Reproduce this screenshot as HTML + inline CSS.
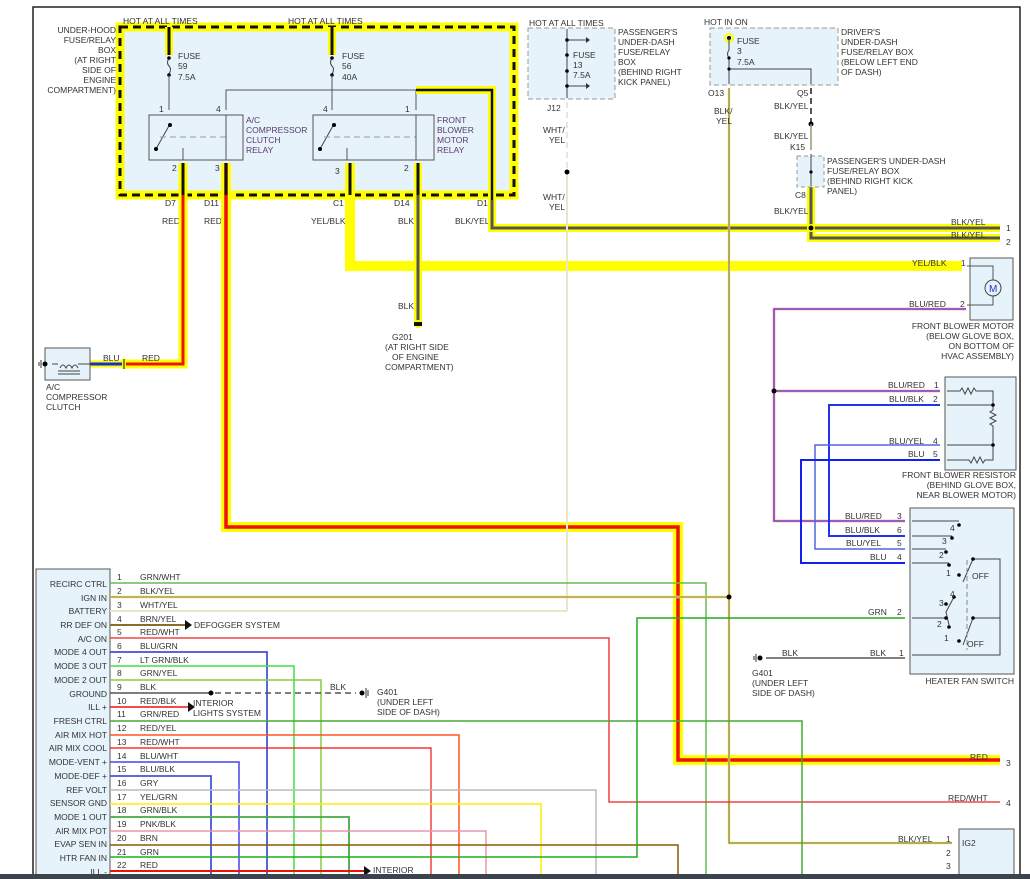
<!DOCTYPE html>
<html><head><meta charset="utf-8"><style>
body{margin:0;background:#fff;}
svg{display:block;font-family:"Liberation Sans",sans-serif;}
text{font-size:8.5px;fill:#333;}
.p{fill:#5a3a70;}
</style></head><body>
<svg width="1030" height="879" viewBox="0 0 1030 879" xmlns="http://www.w3.org/2000/svg">
<rect x="0" y="0" width="1030" height="879" fill="#fff"/>
<path d="M33 879 V7 H1020 V879" fill="none" stroke="#222" stroke-width="1.5"/>

<rect x="120" y="27" width="394" height="168" fill="#e6f3fa" stroke="#ffff00" stroke-width="9"/>
<rect x="120" y="27" width="394" height="168" fill="none" stroke="#111" stroke-width="3" stroke-dasharray="8,5"/>
<g text-anchor="end">
<text x="116" y="33">UNDER-HOOD</text>
<text x="116" y="43">FUSE/RELAY</text>
<text x="116" y="53">BOX</text>
<text x="116" y="63">(AT RIGHT</text>
<text x="116" y="73">SIDE OF</text>
<text x="116" y="83">ENGINE</text>
<text x="116" y="93">COMPARTMENT)</text>
</g>
<text x="123" y="24">HOT AT ALL TIMES</text>
<text x="288" y="24">HOT AT ALL TIMES</text>
<path d="M169 27 V55 M332 27 V55" stroke="#ffff00" stroke-width="8"/>
<path d="M169 27 V55 M332 27 V55" stroke="#111" stroke-width="3"/>
<path d="M169 58 q-3 5 0 8 q3 3 0 8 M332 58 q-3 5 0 8 q3 3 0 8" fill="none" stroke="#444"/>
<circle cx="169" cy="58" r="1.8"/><circle cx="169" cy="75" r="1.8"/><circle cx="332" cy="58" r="1.8"/><circle cx="332" cy="75" r="1.8"/>
<text x="178" y="59">FUSE</text><text x="178" y="69">59</text><text x="178" y="80">7.5A</text>
<text x="342" y="59">FUSE</text><text x="342" y="69">56</text><text x="342" y="80">40A</text>
<path d="M169 75 V110 M332 75 V110 M226 110 V90 H416 V110" fill="none" stroke="#555"/>
<path d="M416 90 H492 V228" fill="none" stroke="#ffff00" stroke-width="8"/>
<path d="M416 90 H492 V228" fill="none" stroke="#111" stroke-width="2.5"/>
<rect x="149" y="115" width="94" height="45" fill="none" stroke="#555"/>
<rect x="313" y="115" width="121" height="45" fill="none" stroke="#555"/>
<path d="M156 149 L170 124 M320 149 L334 124" fill="none" stroke="#444"/>
<path d="M160 137 H226 M324 137 H416" stroke="#999" stroke-dasharray="6,4"/>
<circle cx="156" cy="149" r="2"/><circle cx="170" cy="125" r="2"/><circle cx="320" cy="149" r="2"/><circle cx="334" cy="125" r="2"/>
<path d="M226 115 V160 M416 115 V160 M183 148 V160 M347 148 V160" stroke="#555"/>
<text x="159" y="112">1</text><text x="216" y="112">4</text><text x="323" y="112">4</text><text x="405" y="112">1</text>
<text x="172" y="171">2</text><text x="215" y="171">3</text><text x="335" y="174">3</text><text x="404" y="171">2</text>
<text x="246" y="123" class="p">A/C</text><text x="246" y="133" class="p">COMPRESSOR</text><text x="246" y="143" class="p">CLUTCH</text><text x="246" y="153" class="p">RELAY</text>
<text x="437" y="123" class="p">FRONT</text><text x="437" y="133" class="p">BLOWER</text><text x="437" y="143" class="p">MOTOR</text><text x="437" y="153" class="p">RELAY</text>
<text x="165" y="206">D7</text><text x="204" y="206">D11</text><text x="333" y="206">C1</text><text x="394" y="206">D14</text><text x="477" y="206">D1</text>
<text x="162" y="224">RED</text><text x="204" y="224">RED</text><text x="311" y="224">YEL/BLK</text><text x="398" y="224">BLK</text><text x="455" y="224">BLK/YEL</text>

<g fill="none" stroke-linejoin="miter">
<path d="M183 163 V364 H125" stroke="#ffff00" stroke-width="9"/>
<path d="M226 163 V527 H678 V760 H1000" stroke="#ffff00" stroke-width="10"/>
<path d="M350 163 V266 H962" stroke="#ffff00" stroke-width="10"/>
<path d="M418 163 V322" stroke="#ffff00" stroke-width="8"/>
<path d="M492 200 V228 H1000 M811 185 V238 H1000" stroke="#ffff00" stroke-width="8"/>
<path d="M183 163 V364 H125" stroke="#ee1111" stroke-width="3"/>
<path d="M226 163 V527 H678 V760 H1000" stroke="#ee1111" stroke-width="3.5"/>
<path d="M183 163 V195 M226 163 V195 M350 163 V195 M418 163 V195" stroke="#111" stroke-width="3"/>
<path d="M418 195 V322" stroke="#555" stroke-width="3"/>
<path d="M492 200 V228 H1000 M811 185 V238 H1000" stroke="#555" stroke-width="3"/>
<path d="M125 364 H90" stroke="#ffff00" stroke-width="7"/>
<path d="M125 364 H90" stroke="#1a2ecc" stroke-width="3"/>
</g>
<circle cx="418" cy="324" r="4" fill="#ffff00"/><rect x="414" y="322" width="8" height="4" fill="#111"/>
<text x="398" y="309">BLK</text>
<text x="392" y="340">G201</text>
<text x="385" y="350">(AT RIGHT SIDE</text><text x="392" y="360">OF ENGINE</text><text x="385" y="370">COMPARTMENT)</text>
<rect x="45" y="348" width="45" height="32" fill="#e6f3fa" stroke="#555"/>
<path d="M52 364 H58 M60 368 q3 -6 6 0 q3 -6 6 0 q3 -6 6 0 M58 371 H80 M58 374 H80 M78 364 H90" fill="none" stroke="#444"/>
<circle cx="45" cy="364" r="2.5"/><path d="M41 360 V368 M39 362 V366" stroke="#333"/>
<text x="103" y="361">BLU</text><text x="142" y="361">RED</text>
<rect x="122" y="359" width="4" height="10" fill="#ffff00"/><path d="M124 359 V369" stroke="#111"/>
<text x="46" y="390">A/C</text><text x="46" y="400">COMPRESSOR</text><text x="46" y="410">CLUTCH</text>

<rect x="528" y="28" width="87" height="71" fill="#e6f3fa" stroke="#999" stroke-dasharray="5,3"/>
<text x="529" y="26">HOT AT ALL TIMES</text>
<path d="M567 29 V98 M567 40 H588 M567 86 H588" stroke="#444"/>
<path d="M586 37 l4 3 l-4 3 M586 83 l4 3 l-4 3" fill="#333"/>
<circle cx="567" cy="40" r="1.8"/><circle cx="567" cy="86" r="1.8"/><circle cx="567" cy="55" r="1.8"/><circle cx="567" cy="71" r="1.8"/>
<text x="573" y="58">FUSE</text><text x="573" y="68">13</text><text x="573" y="78">7.5A</text>
<text x="618" y="35">PASSENGER'S</text><text x="618" y="45">UNDER-DASH</text><text x="618" y="55">FUSE/RELAY</text><text x="618" y="65">BOX</text><text x="618" y="75">(BEHIND RIGHT</text><text x="618" y="85">KICK PANEL)</text>
<text x="547" y="111">J12</text>
<path d="M567 102 V172" stroke="#ddd" stroke-width="1.5" stroke-dasharray="6,4"/>
<path d="M567 172 V611" stroke="#e8e8c8" stroke-width="2"/>
<circle cx="567" cy="172" r="2.5"/>
<text x="543" y="133">WHT/</text><text x="549" y="143">YEL</text>
<text x="543" y="200">WHT/</text><text x="549" y="210">YEL</text>

<rect x="710" y="28" width="128" height="57" fill="#e6f3fa" stroke="#999" stroke-dasharray="5,3"/>
<text x="704" y="25">HOT IN ON</text>
<circle cx="729" cy="38" r="4" fill="none" stroke="#ffff00" stroke-width="2"/><circle cx="729" cy="38" r="2"/>
<path d="M729 38 V50 q-3 4 0 8 V84 M729 69 H811 V84" fill="none" stroke="#444"/>
<circle cx="729" cy="58" r="1.6"/><circle cx="729" cy="69" r="1.6"/>
<text x="737" y="44">FUSE</text><text x="737" y="54">3</text><text x="737" y="65">7.5A</text>
<text x="841" y="35">DRIVER'S</text><text x="841" y="45">UNDER-DASH</text><text x="841" y="55">FUSE/RELAY BOX</text><text x="841" y="65">(BELOW LEFT END</text><text x="841" y="75">OF DASH)</text>
<text x="708" y="96">O13</text><text x="797" y="96">Q5</text>
<path d="M729 88 V843 H952" fill="none" stroke="#ffee55" stroke-width="2.5"/>
<path d="M729 88 V843 H952" fill="none" stroke="#666" stroke-width="1"/>
<text x="714" y="114">BLK/</text><text x="716" y="124">YEL</text>
<path d="M811 88 V124" stroke="#555" stroke-width="2" stroke-dasharray="6,4"/>
<circle cx="811" cy="124" r="2.5"/>
<path d="M811 124 V150" stroke="#997" stroke-width="1.5"/>
<text x="774" y="109">BLK/YEL</text><text x="774" y="139">BLK/YEL</text><text x="790" y="150">K15</text>
<rect x="797" y="156" width="27" height="31" fill="#e6f3fa" stroke="#999" stroke-dasharray="4,3"/>
<path d="M811 154 V186" stroke="#444"/><circle cx="811" cy="172" r="1.6"/>
<text x="827" y="164">PASSENGER'S UNDER-DASH</text><text x="827" y="174">FUSE/RELAY BOX</text><text x="827" y="184">(BEHIND RIGHT KICK</text><text x="827" y="194">PANEL)</text>
<text x="795" y="198">C8</text><text x="774" y="214">BLK/YEL</text>
<circle cx="811" cy="228" r="4" fill="#ffff00"/><circle cx="811" cy="228" r="2.5"/>
<text x="951" y="225">BLK/YEL</text><text x="1006" y="231">1</text>
<text x="951" y="238">BLK/YEL</text><text x="1006" y="245">2</text>

<rect x="970" y="258" width="43" height="62" fill="#e6f3fa" stroke="#555"/>
<text x="912" y="266">YEL/BLK</text><text x="961" y="266">1</text>
<path d="M967 266 H993 V305 H967" fill="none" stroke="#555"/>
<circle cx="993" cy="288" r="8" fill="#e6f3fa" stroke="#444"/><text x="989" y="292" style="fill:#2233cc;font-size:10px">M</text>
<text x="909" y="307">BLU/RED</text><text x="960" y="307">2</text>
<path d="M966 309 H774 V521 H905 M774 391 H940" fill="none" stroke="#ee8899" stroke-width="2.5"/>
<path d="M966 309 H774 V521 H905 M774 391 H940" fill="none" stroke="#4433dd" stroke-width="1"/>
<circle cx="774" cy="391" r="2.5"/>
<text x="1014" y="329" text-anchor="end">FRONT BLOWER MOTOR</text><text x="1014" y="339" text-anchor="end">(BELOW GLOVE BOX,</text><text x="1014" y="349" text-anchor="end">ON BOTTOM OF</text><text x="1014" y="359" text-anchor="end">HVAC ASSEMBLY)</text>

<rect x="945" y="377" width="71" height="93" fill="#e6f3fa" stroke="#555"/>
<path d="M947 391 H960 l2 -3 l3 6 l3 -6 l3 6 l3 -6 l2 3 H993 V410 l-3 2 l6 3 l-6 3 l6 3 l-6 3 l3 2 V445 M947 405 H993 M947 445 H993 V460 H985 l-2 3 l-3 -6 l-3 6 l-3 -6 l-3 6 l-2 -3 H947" fill="none" stroke="#444"/>
<circle cx="993" cy="405" r="1.8"/><circle cx="993" cy="445" r="1.8"/>
<text x="888" y="388">BLU/RED</text><text x="934" y="388">1</text>
<text x="889" y="402">BLU/BLK</text><text x="933" y="402">2</text>
<text x="889" y="444">BLU/YEL</text><text x="933" y="444">4</text>
<text x="908" y="457">BLU</text><text x="933" y="457">5</text>
<path d="M940 405 H829 V536 H905" fill="none" stroke="#2233ee" stroke-width="2"/>
<path d="M940 445 H815 V549 H905" fill="none" stroke="#5566dd" stroke-width="1.5"/>
<path d="M940 460 H801 V563 H905" fill="none" stroke="#1122ee" stroke-width="2"/>
<text x="1016" y="478" text-anchor="end">FRONT BLOWER RESISTOR</text><text x="1016" y="488" text-anchor="end">(BEHIND GLOVE BOX,</text><text x="1016" y="498" text-anchor="end">NEAR BLOWER MOTOR)</text>

<rect x="910" y="508" width="104" height="166" fill="#e6f3fa" stroke="#555"/>
<text x="845" y="519">BLU/RED</text><text x="897" y="519">3</text>
<text x="845" y="533">BLU/BLK</text><text x="897" y="533">6</text>
<text x="846" y="546">BLU/YEL</text><text x="897" y="546">5</text>
<text x="870" y="560">BLU</text><text x="897" y="560">4</text>
<path d="M912 521 H959 M912 536 H952 M912 549 H946 M912 563 H949 M963 582 L973 559 H1000 V655 H912 M973 618 H1000 M912 618 H946 M954 597 L946 612 L949 625 M963 645 L973 618" fill="none" stroke="#444"/>
<path d="M967 560 V650" stroke="#888" stroke-dasharray="5,3"/>
<g><circle cx="959" cy="525" r="1.8"/><circle cx="952" cy="538" r="1.8"/><circle cx="946" cy="552" r="1.8"/><circle cx="949" cy="565" r="1.8"/><circle cx="959" cy="575" r="1.8"/><circle cx="973" cy="559" r="1.8"/><circle cx="954" cy="597" r="1.8"/><circle cx="946" cy="604" r="1.8"/><circle cx="946" cy="618" r="1.8"/><circle cx="949" cy="627" r="1.8"/><circle cx="959" cy="641" r="1.8"/><circle cx="973" cy="618" r="1.8"/></g>
<text x="950" y="531">4</text><text x="942" y="544">3</text><text x="939" y="558">2</text><text x="946" y="576">1</text><text x="972" y="579">OFF</text>
<text x="950" y="597">4</text><text x="939" y="606">3</text><text x="937" y="627">2</text><text x="944" y="641">1</text><text x="967" y="647">OFF</text>
<text x="868" y="615">GRN</text><text x="897" y="615">2</text>
<text x="870" y="656">BLK</text><text x="899" y="656">1</text>
<text x="782" y="656">BLK</text>
<path d="M766 658 H905" stroke="#555" stroke-width="1.5"/>
<circle cx="760" cy="658" r="2.5"/><path d="M756 654 V662 M754 656 V660" stroke="#333"/>
<text x="752" y="676">G401</text><text x="752" y="686">(UNDER LEFT</text><text x="752" y="696">SIDE OF DASH)</text>
<text x="1014" y="684" text-anchor="end">HEATER FAN SWITCH</text>

<rect x="959" y="829" width="55" height="60" fill="#e6f3fa" stroke="#555"/>
<text x="962" y="846">IG2</text>
<text x="898" y="842">BLK/YEL</text><text x="946" y="842">1</text><text x="946" y="856">2</text><text x="946" y="869">3</text>

<rect x="36" y="569" width="74" height="310" fill="#e6f3fa" stroke="#555"/>
<g fill="none">
<path d="M110 583 H706 V879" stroke="#66bb55" stroke-width="1.5"/>
<path d="M110 597 H729" stroke="#ffee55" stroke-width="2.5"/><path d="M110 597 H729" stroke="#777" stroke-width="1"/>
<path d="M110 611 H567" stroke="#e8e8c8" stroke-width="2"/>
<path d="M110 625 H185" stroke="#8a6d2a" stroke-width="2"/>
<path d="M110 638 H609 V802 H1000" stroke="#ee2222" stroke-width="1.3"/>
<path d="M110 652 H267 V879" stroke="#2233cc" stroke-width="1.5"/>
<path d="M110 666 H294 V879" stroke="#44dd44" stroke-width="1.5"/>
<path d="M110 680 H321 V879" stroke="#88cc44" stroke-width="1.5"/>
<path d="M110 693 H205" stroke="#555" stroke-width="1.5"/>
<path d="M205 693 H356" stroke="#555" stroke-width="1.5" stroke-dasharray="6,4"/>
<path d="M110 707 H188" stroke="#ee1111" stroke-width="1.5"/>
<path d="M110 721 H802 V879" stroke="#44aa33" stroke-width="1.5"/>
<path d="M110 735 H459 V879" stroke="#ff5522" stroke-width="1.5"/>
<path d="M110 748 H431 V879" stroke="#ee1111" stroke-width="1.2"/>
<path d="M110 762 H239 V879" stroke="#4444ee" stroke-width="1.5"/>
<path d="M110 776 H211 V879" stroke="#4455dd" stroke-width="1.8"/>
<path d="M110 790 H596 V879" stroke="#bbb" stroke-width="1.5"/>
<path d="M110 804 H541 V879" stroke="#ffee00" stroke-width="1.5"/>
<path d="M110 817 H349 V879" stroke="#44aa44" stroke-width="1.8"/>
<path d="M110 831 H486 V879" stroke="#e899aa" stroke-width="1.5"/>
<path d="M110 845 H678 V879" stroke="#8b5a00" stroke-width="1.5"/>
<path d="M110 857 H637 V618 H905" stroke="#22aa22" stroke-width="1.5"/>
<path d="M110 871 H364" stroke="#ee1111" stroke-width="2"/>
</g>
<circle cx="729" cy="597" r="2.5"/>
<circle cx="211" cy="693" r="2.5"/>
<circle cx="362" cy="693" r="2.5"/><path d="M366 688 V698 M368 690 V696" stroke="#333"/>
<path d="M185 620 l7 5 l-7 5 Z M188 702 l7 5 l-7 5 Z M364 866 l7 5 l-7 5 Z" fill="#111"/>
<text x="194" y="628">DEFOGGER SYSTEM</text>
<text x="193" y="706">INTERIOR</text><text x="193" y="716">LIGHTS SYSTEM</text>
<text x="373" y="873">INTERIOR</text>
<text x="330" y="690">BLK</text><text x="377" y="695">G401</text><text x="377" y="705">(UNDER LEFT</text><text x="377" y="715">SIDE OF DASH)</text>
<text x="970" y="760">RED</text><text x="1006" y="766">3</text>
<text x="948" y="801">RED/WHT</text><text x="1006" y="806">4</text>
<g text-anchor="end">
<text x="107" y="587">RECIRC CTRL</text><text x="107" y="601">IGN IN</text><text x="107" y="614">BATTERY</text><text x="107" y="628">RR DEF ON</text><text x="107" y="642">A/C ON</text><text x="107" y="655">MODE 4 OUT</text><text x="107" y="669">MODE 3 OUT</text><text x="107" y="683">MODE 2 OUT</text><text x="107" y="697">GROUND</text><text x="107" y="710">ILL +</text><text x="107" y="724">FRESH CTRL</text><text x="107" y="738">AIR MIX HOT</text><text x="107" y="751">AIR MIX COOL</text><text x="107" y="765">MODE-VENT +</text><text x="107" y="779">MODE-DEF +</text><text x="107" y="793">REF VOLT</text><text x="107" y="806">SENSOR GND</text><text x="107" y="820">MODE 1 OUT</text><text x="107" y="834">AIR MIX POT</text><text x="107" y="847">EVAP SEN IN</text><text x="107" y="861">HTR FAN IN</text><text x="107" y="875">ILL -</text>
</g>
<g>
<text x="117" y="580">1</text><text x="140" y="580">GRN/WHT</text>
<text x="117" y="594">2</text><text x="140" y="594">BLK/YEL</text>
<text x="117" y="608">3</text><text x="140" y="608">WHT/YEL</text>
<text x="117" y="622">4</text><text x="140" y="622">BRN/YEL</text>
<text x="117" y="635">5</text><text x="140" y="635">RED/WHT</text>
<text x="117" y="649">6</text><text x="140" y="649">BLU/GRN</text>
<text x="117" y="663">7</text><text x="140" y="663">LT GRN/BLK</text>
<text x="117" y="676">8</text><text x="140" y="676">GRN/YEL</text>
<text x="117" y="690">9</text><text x="140" y="690">BLK</text>
<text x="117" y="704">10</text><text x="140" y="704">RED/BLK</text>
<text x="117" y="717">11</text><text x="140" y="717">GRN/RED</text>
<text x="117" y="731">12</text><text x="140" y="731">RED/YEL</text>
<text x="117" y="745">13</text><text x="140" y="745">RED/WHT</text>
<text x="117" y="759">14</text><text x="140" y="759">BLU/WHT</text>
<text x="117" y="772">15</text><text x="140" y="772">BLU/BLK</text>
<text x="117" y="786">16</text><text x="140" y="786">GRY</text>
<text x="117" y="800">17</text><text x="140" y="800">YEL/GRN</text>
<text x="117" y="813">18</text><text x="140" y="813">GRN/BLK</text>
<text x="117" y="827">19</text><text x="140" y="827">PNK/BLK</text>
<text x="117" y="841">20</text><text x="140" y="841">BRN</text>
<text x="117" y="855">21</text><text x="140" y="855">GRN</text>
<text x="117" y="868">22</text><text x="140" y="868">RED</text>
</g>
<rect x="0" y="874" width="1030" height="5" fill="#3b434d"/>
</svg>
</body></html>
